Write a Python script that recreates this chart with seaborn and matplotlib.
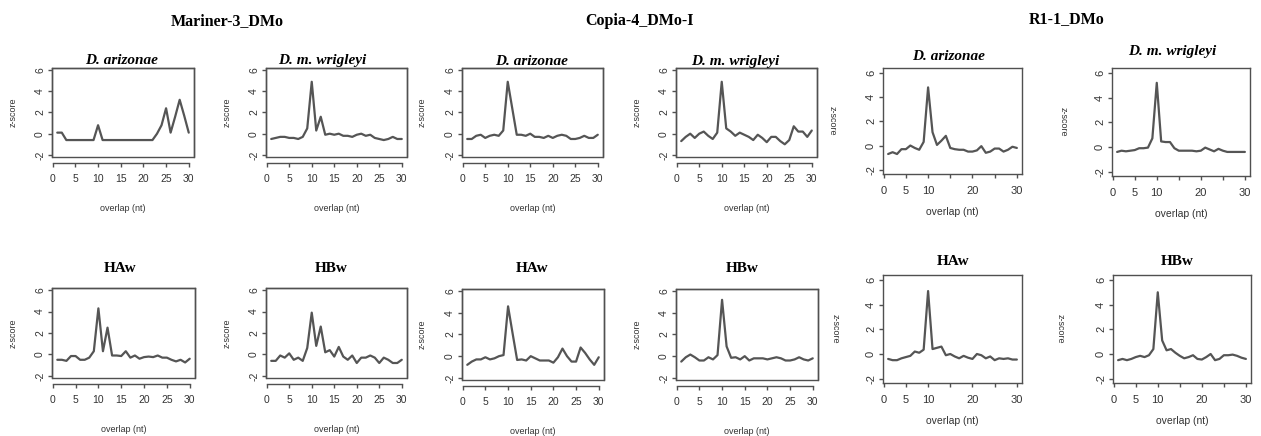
#!/usr/bin/env python3
"""
Ping-pong overlap z-scores for three TE families (Mariner-3, Copia-4, R1-1)
in four D. mojavensis group samples. 2 rows x 6 small R-style panels.
"""

import matplotlib
matplotlib.use("Agg")
import matplotlib.pyplot as plt
from matplotlib.patches import Rectangle
import pandas as pd
import seaborn as sns

W, H = 1261, 436

overlap = [1, 2, 3, 4, 5, 6, 7, 8, 9, 10, 11, 12, 13, 14, 15,
           16, 17, 18, 19, 20, 21, 22, 23, 24, 25, 26, 27, 28, 29, 30]

# Mariner-3_DMo
mariner_arizonae = [0.1, 0.1, -0.6, -0.6, -0.6, -0.6, -0.6, -0.6, -0.6, 0.8,
                    -0.6, -0.6, -0.6, -0.6, -0.6, -0.6, -0.6, -0.6, -0.6, -0.6,
                    -0.6, -0.6, 0.0, 0.8, 2.4, 0.1, 1.6, 3.2, 1.7, 0.1]
mariner_wrigleyi = [-0.5, -0.4, -0.3, -0.3, -0.4, -0.4, -0.5, -0.3, 0.5, 4.9,
                    0.3, 1.6, -0.1, 0.0, -0.1, 0.0, -0.2, -0.2, -0.3, -0.1,
                    0.0, -0.2, -0.1, -0.4, -0.5, -0.6, -0.5, -0.3, -0.5, -0.5]
mariner_haw = [-0.5, -0.5, -0.6, -0.15, -0.15, -0.5, -0.5, -0.3, 0.3, 4.3,
               0.3, 2.5, -0.1, -0.1, -0.15, 0.3, -0.3, -0.1, -0.4, -0.25,
               -0.2, -0.25, -0.1, -0.3, -0.3, -0.5, -0.65, -0.5, -0.75, -0.4]
mariner_hbw = [-0.6, -0.6, -0.1, -0.3, 0.1, -0.5, -0.3, -0.6, 0.6, 3.9,
               0.8, 2.6, 0.2, 0.4, -0.2, 0.7, -0.2, -0.5, -0.1, -0.8,
               -0.3, -0.3, -0.1, -0.3, -0.8, -0.3, -0.5, -0.8, -0.8, -0.5]

# Copia-4_DMo-I
copia_arizonae = [-0.5, -0.5, -0.2, -0.1, -0.4, -0.2, -0.1, -0.2, 0.3, 4.9,
                  2.4, -0.1, -0.1, -0.2, 0.0, -0.3, -0.3, -0.4, -0.2, -0.4,
                  -0.2, -0.1, -0.2, -0.5, -0.5, -0.4, -0.2, -0.4, -0.4, -0.1]
copia_wrigleyi = [-0.7, -0.3, 0.0, -0.4, 0.0, 0.2, -0.2, -0.5, 0.1, 4.9,
                  0.5, 0.2, -0.2, 0.1, -0.1, -0.3, -0.6, -0.1, -0.4, -0.8,
                  -0.3, -0.3, -0.7, -1.0, -0.6, 0.7, 0.2, 0.2, -0.3, 0.3]
copia_haw = [-0.8, -0.5, -0.3, -0.3, -0.1, -0.3, -0.2, 0.0, 0.1, 4.6,
             2.1, -0.35, -0.3, -0.4, 0.0, -0.2, -0.4, -0.4, -0.4, -0.6,
             -0.1, 0.7, 0.0, -0.5, -0.5, 0.8, 0.3, -0.3, -0.8, -0.1]
copia_hbw = [-0.5, -0.1, 0.15, -0.1, -0.4, -0.4, -0.1, -0.3, 0.1, 5.2,
             0.9, -0.15, -0.1, -0.3, 0.0, -0.4, -0.2, -0.2, -0.2, -0.3,
             -0.2, -0.1, -0.2, -0.4, -0.4, -0.3, -0.1, -0.3, -0.4, -0.2]

# R1-1_DMo
r1_arizonae = [-0.7, -0.55, -0.7, -0.3, -0.3, 0.0, -0.2, -0.35, 0.3, 4.8,
               1.1, 0.05, 0.4, 0.8, -0.2, -0.3, -0.35, -0.35, -0.5, -0.5,
               -0.4, -0.05, -0.6, -0.5, -0.25, -0.25, -0.5, -0.35, -0.1, -0.2]
r1_wrigleyi = [-0.4, -0.3, -0.35, -0.3, -0.25, -0.1, -0.1, -0.05, 0.7, 5.2,
               0.45, 0.4, 0.4, -0.1, -0.3, -0.3, -0.3, -0.3, -0.35, -0.3,
               -0.05, -0.2, -0.35, -0.15, -0.3, -0.4, -0.4, -0.4, -0.4, -0.4]
r1_haw = [-0.4, -0.5, -0.5, -0.35, -0.25, -0.15, 0.2, 0.1, 0.35, 5.1,
          0.4, 0.5, 0.6, -0.1, 0.0, -0.2, -0.35, -0.15, -0.3, -0.4,
          0.0, -0.1, -0.35, -0.2, -0.5, -0.35, -0.4, -0.35, -0.45, -0.45]
r1_hbw = [-0.5, -0.4, -0.5, -0.4, -0.25, -0.15, -0.25, -0.1, 0.4, 5.0,
          1.1, 0.3, 0.4, 0.1, -0.15, -0.35, -0.25, -0.1, -0.4, -0.45,
          -0.25, 0.0, -0.5, -0.4, -0.1, -0.1, -0.05, -0.15, -0.3, -0.4]

group_titles = ["Mariner-3_DMo", "Copia-4_DMo-I", "R1-1_DMo"]
y_ticks = [-2, 0, 2, 4, 6]
x_ticks = [0, 5, 10, 15, 20, 25, 30]

# layout in pixels: box (left, top, right, bottom), title (x, baseline),
# ylabel x, r1-style flag
panels = [
    (mariner_arizonae, "D. arizonae", True, (52, 68, 194, 157), (122, 64), 13, False),
    (mariner_wrigleyi, "D. m. wrigleyi", True, (266, 68, 407, 157), (322, 64), 227, False),
    (copia_arizonae, "D. arizonae", True, (462, 68, 603, 157), (532, 65), 422, False),
    (copia_wrigleyi, "D. m. wrigleyi", True, (676, 68, 817, 157), (735, 65), 637, False),
    (r1_arizonae, "D. arizonae", True, (883, 68, 1022, 174), (949, 60), 832, True),
    (r1_wrigleyi, "D. m. wrigleyi", True, (1112, 68, 1250, 176), (1172, 55), 1063, True),
    (mariner_haw, "HAw", False, (52, 288, 195, 378), (120, 272), 13, False),
    (mariner_hbw, "HBw", False, (266, 288, 407, 378), (331, 272), 227, False),
    (copia_haw, "HAw", False, (462, 289, 604, 380), (532, 272), 422, False),
    (copia_hbw, "HBw", False, (676, 289, 818, 380), (742, 272), 637, False),
    (r1_haw, "HAw", False, (883, 275, 1022, 383), (953, 265), 835, True),
    (r1_hbw, "HBw", False, (1113, 275, 1251, 383), (1177, 265), 1060, True),
]

LINE = "#555555"
AX = "#505050"
TXT = "#333333"
SERIF = ["Liberation Serif", "DejaVu Serif"]
SANS = ["Liberation Sans", "DejaVu Sans"]


def px_rect(l, t, r, b):
    return [l / W, 1 - b / H, (r - l) / W, (b - t) / H]


def draw_panel(fig, values, title, italic, box, tpos, ylab_x, r1):
    ax = fig.add_axes(px_rect(*box))
    df = pd.DataFrame({"overlap": overlap, "z": values})
    sns.lineplot(data=df, x="overlap", y="z", ax=ax, color=LINE, linewidth=1.6)

    ax.set_xlim(-0.16, 31.16)
    ax.set_ylim((-2.35, 6.4) if r1 else (-2.2, 6.2))
    ax.set_xticks(x_ticks)
    if r1:
        ax.set_xticklabels(["0", "5", "10", "", "20", "", "30"])
    else:
        ax.set_xticklabels([str(t) for t in x_ticks])
    ax.set_yticks(y_ticks)
    ax.set_yticklabels([str(t) for t in y_ticks], rotation=90, va="center")
    ax.set_xlabel("")
    ax.set_ylabel("")

    size = 8 if r1 else 7.5
    ax.tick_params(bottom=True, left=True, direction="out", length=3,
                   width=1.0, color=AX, labelsize=size, labelcolor=TXT)
    ax.tick_params(axis="x", pad=5.5)
    ax.tick_params(axis="y", pad=2)
    for lab in ax.get_xticklabels() + ax.get_yticklabels():
        lab.set_fontfamily(SANS)

    for s in ax.spines.values():
        s.set_color(AX)
        s.set_linewidth(1.0)
    if not r1:
        # R draws the x axis a little below the box
        ax.spines["bottom"].set_position(("outward", 4))
        ax.spines["bottom"].set_bounds(0, 30)
        ax.add_patch(Rectangle((0, 0), 1, 1, transform=ax.transAxes, fill=False,
                               edgecolor=AX, linewidth=1.0, clip_on=False))

    l, t, r, b = box
    fig.text(tpos[0] / W, 1 - tpos[1] / H, title, ha="center", va="baseline",
             fontsize=11, fontweight="bold", style="italic" if italic else "normal",
             family=SERIF, color="black")
    xl_y = b + (38 if r1 else 51)
    fig.text((l + r) / 2 / W, 1 - xl_y / H, "overlap (nt)", ha="center", va="center",
             fontsize=7.5 if r1 else 6.5, family=SANS, color=TXT)
    fig.text(ylab_x / W, 1 - (t + b) / 2 / H, "z-score", ha="center", va="center",
             rotation=270 if r1 else 90, fontsize=6.5, family=SANS, color=TXT)
    return ax


def main():
    sns.set_style("white")
    plt.rcParams["font.family"] = SANS

    fig = plt.figure(figsize=(W / 100, H / 100), dpi=100)
    fig.patch.set_facecolor("white")

    for p in panels:
        draw_panel(fig, *p)

    for name, (x, y) in zip(group_titles, [(227, 25), (640, 25), (1067, 23)]):
        fig.text(x / W, 1 - y / H, name, ha="center", va="baseline",
                 fontsize=11.5, fontweight="bold", family=SERIF, color="black")

    fig.savefig("out.png", dpi=100, facecolor="white")
    plt.close(fig)


if __name__ == "__main__":
    main()
